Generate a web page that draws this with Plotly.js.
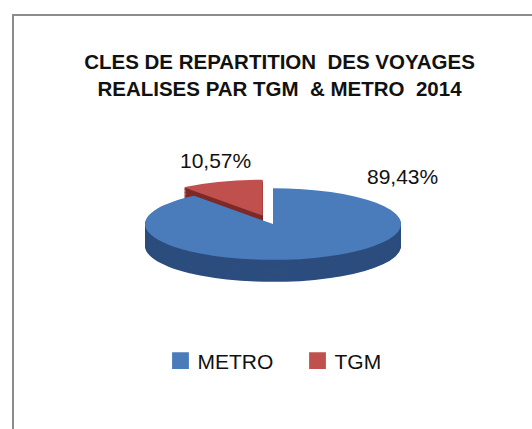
<!DOCTYPE html>
<html>
<head>
<meta charset="utf-8">
<script src="https://cdn.plot.ly/plotly-3.0.1.min.js"></script>
<style>
html,body{margin:0;padding:0;background:#fff;}
#chart{width:532px;height:429px;}
</style>
</head>
<body>
<div id="chart"></div>
<script>
// ---- data ----
const categories = ['METRO', 'TGM'];
const shares = [89.43, 10.57];
const titleLines = ['CLES DE REPARTITION\u00a0 DES VOYAGES', 'REALISES PAR TGM\u00a0 & METRO\u00a0 2014'];

// ---- style ----
const topColors = ['#4a7bbb', '#c0504d'];
const sideColors = ['#2c4d7e', '#7e2a28'];
const pulls = [0, 0.25];
const W = 532, H = 429;
const k = 0.28;            // vertical squash of the pie (3-D look)
const depthPx = 22;        // thickness of the pie after squash
const targetCy = 224;      // centre of top face on screen (px from top)
const cxPx = 273;
const r = 128;
const box = 2 * r * (1 + Math.max(...pulls));
const topCyPx = 171.6;     // centre in un-squashed space
const nLayers = 24;

function domainFor(cyPx) {
  const yc = (H - cyPx) / H;
  return {
    x: [(cxPx - box / 2) / W, (cxPx + box / 2) / W],
    y: [yc - box / 2 / H, yc + box / 2 / H]
  };
}

const data = [];
for (let i = nLayers; i >= 1; i--) {
  data.push({
    type: 'pie', labels: categories, values: shares,
    sort: false, direction: 'clockwise', rotation: 0,
    pull: pulls, textinfo: 'none', hoverinfo: 'skip', showlegend: false,
    marker: {colors: sideColors, line: {width: 0}},
    domain: domainFor(topCyPx + (depthPx / k) * i / nLayers)
  });
}
data.push({
  type: 'pie', labels: categories, values: shares,
  sort: false, direction: 'clockwise', rotation: 0,
  pull: pulls, textinfo: 'none', showlegend: true,
  marker: {colors: topColors, line: {width: 0}},
  domain: domainFor(topCyPx)
});

const fmt = v => v.toFixed(2).replace('.', ',') + '%';
const labelPos = [[402, 176], [215.5, 160]];
const annotations = categories.map((c, i) => ({
  text: fmt(shares[i]), showarrow: false, xref: 'paper', yref: 'paper',
  x: labelPos[i][0] / W, y: (H - labelPos[i][1]) / H,
  xanchor: 'center', yanchor: 'middle',
  font: {family: 'Liberation Sans, Arial, sans-serif', size: 21, color: '#111'}
}));

const layout = {
  width: W, height: H,
  margin: {l: 0, r: 0, t: 0, b: 0},
  paper_bgcolor: '#ffffff',
  font: {family: 'Liberation Sans, Arial, sans-serif', color: '#111'},
  title: {
    text: '<b>' + titleLines.join('<br>') + '</b>',
    x: 279.5 / W, xanchor: 'center', xref: 'paper',
    y: 1 - 69 / H, yanchor: 'top', yref: 'container',
    font: {family: 'Liberation Sans, Arial, sans-serif', size: 20.5, color: '#111'}
  },
  legend: {
    orientation: 'h', x: 294.5 / W, xanchor: 'center', y: (H - 361) / H, yanchor: 'middle',
    font: {family: 'Liberation Sans, Arial, sans-serif', size: 21, color: '#111'},
    bgcolor: 'rgba(0,0,0,0)', traceorder: 'normal',
    entrywidth: 92, entrywidthmode: 'pixels'
  },
  annotations: annotations,
  shapes: [{
    type: 'path', xref: 'paper', yref: 'paper',
    path: 'M ' + (13 / W) + ',-0.2 L ' + (13 / W) + ',' + ((H - 15) / H) + ' L 1.2,' + ((H - 15) / H),
    line: {color: '#8c8c8c', width: 2}
  }],
  showlegend: true
};

Plotly.newPlot('chart', data, layout, {displayModeBar: false, staticPlot: true}).then(gd => {
  const g = gd.querySelector('.pielayer');
  if (g) g.setAttribute('transform', 'translate(0,' + (targetCy - k * topCyPx) + ') scale(1,' + k + ')');
  gd.querySelectorAll('.legend .legendpoints path').forEach(p => {
    p.setAttribute('transform', 'translate(23,0) scale(1.4)');
  });
});
</script>
</body>
</html>
